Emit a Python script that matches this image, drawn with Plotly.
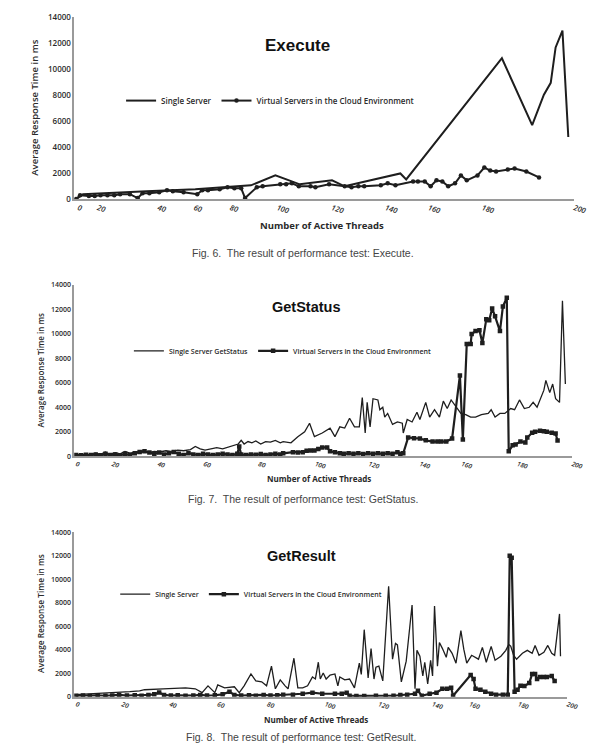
import plotly.graph_objects as go

# ---------------- DATA ----------------
# x values are category-slot positions along the (category) thread axis
tick_text = ["0", "20", "40", "60", "80", "100", "120", "140", "160", "180", "200"]
exec_tick_pos = [80, 100, 162, 199, 236, 284, 340, 395, 439, 494, 588]
stat_tick_pos = [78, 115, 162, 209, 265, 323, 378, 430, 473, 530, 586]
res_tick_pos = [78, 125, 174, 223, 274, 333, 388, 443, 481, 531, 581]

y_ticks = [0, 2000, 4000, 6000, 8000, 10000, 12000, 14000]
y_tick_text = ["0", "2000", "4000", "6000", "8000", "10000", "12000", "14000"]

exec_single_x = [78, 85, 150, 200, 257, 282, 307, 340, 353, 380, 410, 416, 514, 545, 557, 564, 569, 576, 582]
exec_single_y = [0, 380, 605, 760, 1060, 1820, 1135, 1440, 985, 1440, 1970, 1510, 10820, 5680, 8020, 8930, 11650, 12940, 4770]

exec_virtual_x = [78, 82, 91, 97, 103, 110, 117, 123, 133, 141, 146, 153, 163, 171, 177, 188, 202, 207, 213, 225,
                  233, 240, 247, 251, 263, 269, 287, 293, 299, 306, 318, 323, 337, 353, 360, 367, 373, 390, 397, 405,
                  423, 428, 435, 441, 447, 453, 459, 466, 472, 478, 489, 496, 502, 508, 520, 527, 539, 552]
exec_virtual_y = [0, 300, 230, 230, 300, 300, 300, 380, 380, 80, 450, 450, 530, 680, 600, 530, 380, 680, 680, 760,
                  910, 830, 830, 80, 910, 980, 1135, 1135, 1210, 980, 980, 910, 1135, 985, 910, 980, 980, 1060, 1210, 1060,
                  1360, 1360, 1360, 985, 1440, 1360, 985, 1210, 1820, 1440, 1820, 2420, 2195, 2120, 2270, 2350, 2120, 1665]

stat_single_x = [78, 85, 92, 98, 103, 108, 112, 118, 123, 128, 133, 140, 147, 152, 158, 163, 170, 175, 182, 188,
                 195, 200, 205, 210, 217, 222, 228, 235, 240, 244, 247, 250, 254, 258, 262, 267, 272, 277, 282, 287,
                 290, 298, 305, 312, 317, 322, 330, 338, 343, 348, 353, 358, 363, 368, 371, 373, 374, 376, 379, 382,
                 387, 389, 392, 394, 397, 402, 407, 412, 413, 417, 422, 427, 430, 436, 440, 445, 450, 454, 458, 462,
                 467, 472, 477, 482, 487, 493, 500, 503, 507, 512, 517, 523, 527, 532, 537, 542, 546, 550, 557, 559,
                 563, 566, 569, 573, 576, 579]
stat_single_y = [100, 150, 120, 250, 150, 350, 150, 300, 200, 400, 250, 350, 450, 300, 400, 350, 450, 400, 500, 450,
                 550, 800, 600, 500, 650, 700, 600, 800, 900, 1000, 1300, 1000, 1200, 1100, 1250, 1000, 1200, 1150, 1300, 1100,
                 1200, 1100, 1600, 2000, 2700, 1600, 1900, 2300, 1600, 2400, 2300, 3100, 2400, 2400, 4800, 2700, 1900, 4400, 2400, 4700,
                 4600, 3800, 4000, 3200, 3500, 2600, 2800, 2700, 1900, 3000, 2800, 3600, 3000, 4400, 3200, 3800, 3200, 4500, 3900, 4600,
                 4000, 3500, 3400, 3200, 3200, 3400, 3500, 3800, 3200, 3500, 3500, 3900, 3800, 4600, 3900, 4000, 4400, 4000, 5400, 6200,
                 5200, 5900, 4700, 4400, 12700, 5900]

stat_virtual_x = [78, 83, 88, 93, 98, 103, 108, 113, 118, 123, 128, 133, 138, 143, 148, 153, 158, 163, 168, 173,
                  178, 183, 188, 193, 198, 203, 208, 213, 218, 223, 228, 233, 238, 243, 245, 247, 252, 257, 262, 267,
                  272, 277, 282, 287, 290, 300, 305, 310, 314, 318, 322, 326, 330, 335, 338, 343, 348, 352, 357, 362,
                  367, 372, 377, 382, 387, 392, 397, 402, 407, 410, 413, 418, 424, 430, 436, 443, 448, 452, 457, 463,
                  471, 474, 478, 482, 483, 487, 491, 494, 498, 501, 504, 507, 512, 515, 519, 521, 525, 528, 533, 538,
                  540, 545, 548, 553, 557, 560, 565, 569, 571]
stat_virtual_y = [100, 80, 120, 100, 150, 80, 200, 100, 150, 80, 200, 100, 250, 350, 400, 300, 200, 300, 150, 250,
                  350, 200, 100, 250, 150, 100, 200, 150, 100, 150, 200, 150, 100, 200, 800, 150, 100, 150, 120, 180,
                  100, 150, 200, 150, 240, 330, 300, 330, 450, 480, 480, 600, 720, 720, 400, 330, 240, 200, 240, 200,
                  240, 180, 240, 200, 240, 200, 240, 200, 330, 200, 240, 1530, 1480, 1450, 1300, 1200, 1200, 1200, 1200, 1450,
                  6600, 1370, 9170, 9170, 9980, 10220, 10300, 9250, 11180, 11100, 12070, 11430, 10220, 12230, 12950, 400, 890, 970, 1200, 1130,
                  1530, 1930, 2010, 2090, 2050, 2010, 1930, 1850, 1290]

res_single_x = [77, 100, 110, 133, 143, 148, 167, 190, 200, 207, 213, 220, 223, 230, 240, 245, 250, 257, 262, 268,
                273, 278, 282, 287, 292, 295, 301, 305, 310, 315, 320, 323, 326, 328, 331, 334, 338, 343,
                346, 348, 353, 358, 363, 368, 370, 373, 377, 380, 383, 385, 388, 392, 398, 402, 405, 407, 411, 416,
                422, 425, 427, 430, 433, 435, 438, 441, 443, 445, 448, 450, 453, 457, 459, 463, 467, 472, 475, 478,
                483, 490, 494, 498, 503, 507, 513, 518, 521, 523, 526, 529, 535, 540, 545, 548, 552, 557, 561, 565,
                568, 573, 574]
res_single_y = [170, 250, 330, 420, 500, 590, 670, 750, 670, 340, 920, 340, 1000, 750, 840, 340, 920, 1930, 1340, 1260,
                920, 2600, 670, 1430, 920, 670, 3270, 750, 750, 920, 1680, 1510, 2930, 1500, 2010, 1500, 1840, 1930,
                920, 1680, 1430, 1500, 750, 2850, 1900, 5700, 1590, 4100, 1500, 2510, 2600, 1340, 9390, 3190, 4530, 4400, 1260, 3020,
                7800, 670, 3940, 3440, 1760, 2930, 1090, 3100, 1760, 7710, 2600, 4610, 4110, 3350, 4190, 3690, 2850, 5620, 4020, 2850,
                3520, 3190, 4190, 2930, 4280, 3100, 3440, 3940, 4440, 4300, 3520, 3190, 3690, 3940, 3690, 4360, 3520, 3770, 4360, 3690,
                3520, 7040, 3440]

res_virtual_x = [78, 85, 92, 100, 108, 115, 122, 130, 138, 145, 152, 158, 163, 168, 175, 182, 190, 198, 205, 212,
                 220, 228, 235, 240, 247, 255, 262, 270, 277, 284, 290, 300, 310, 320, 330, 343, 350, 355, 358, 365,
                 373, 385, 395, 403, 410, 417, 425, 428, 432, 440, 447, 453, 458, 462, 464, 482, 485, 487, 492, 497,
                 503, 508, 515, 520, 522, 524, 527, 530, 533, 537, 542, 545, 548, 550, 553, 557, 560, 565, 568]
res_virtual_y = [80, 100, 60, 120, 80, 100, 150, 100, 120, 80, 150, 200, 350, 150, 100, 120, 80, 100, 150, 100,
                 120, 200, 420, 150, 100, 120, 80, 150, 100, 120, 170, 170, 250, 340, 250, 250, 250, 340, 80, 60,
                 50, 80, 80, 80, 150, 170, 250, 500, 80, 250, 340, 670, 670, 750, 80, 1840, 1510, 670, 590, 420,
                 250, 170, 170, 170, 11990, 11820, 420, 590, 920, 900, 1170, 1930, 1930, 1510, 1680, 1680, 1680, 1760, 1340]

# ---------------- LAYOUT HELPERS ----------------
W, H = 595, 746
def fx(p):
    return p / W
def fy(p):
    return 1 - p / H

LINE = "#1e1e1e"
AXIS = "#9a9a9a"
TXT = "#2a2a2a"
UIF = "Open Sans"

fig = go.Figure()

panels = [
    dict(xa="x", ya="y", lg="legend", xr=588, yt=11, yb=196, tp=exec_tick_pos,
         s=(exec_single_x, exec_single_y), v=(exec_virtual_x, exec_virtual_y),
         sname="Single Server", sym="circle", msize=4.5, swidth=2.0, vwidth=2.0,
         ytf=8, xtf=7.5),
    dict(xa="x2", ya="y2", lg="legend2", xr=586, yt=283, yb=457, tp=stat_tick_pos,
         s=(stat_single_x, stat_single_y), v=(stat_virtual_x, stat_virtual_y),
         sname="Single Server GetStatus", sym="square", msize=4.5, swidth=1.3, vwidth=2.2,
         ytf=7, xtf=6.5),
    dict(xa="x3", ya="y3", lg="legend3", xr=581, yt=534, yb=701, tp=res_tick_pos,
         s=(res_single_x, res_single_y), v=(res_virtual_x, res_virtual_y),
         sname="Single Server", sym="square", msize=4.5, swidth=1.3, vwidth=2.2,
         ytf=7, xtf=6.5),
]

layout = dict(
    width=W, height=H, margin=dict(l=0, r=0, t=0, b=0),
    paper_bgcolor="white", plot_bgcolor="white",
)

for i, p in enumerate(panels):
    sfx = "" if i == 0 else str(i + 1)
    fig.add_trace(go.Scatter(
        x=p["s"][0], y=p["s"][1], mode="lines", name=p["sname"],
        line=dict(color=LINE, width=p["swidth"]),
        xaxis=p["xa"], yaxis=p["ya"], legend=p["lg"], showlegend=True))
    fig.add_trace(go.Scatter(
        x=p["v"][0], y=p["v"][1], mode="lines+markers",
        name="Virtual Servers in the Cloud Environment",
        line=dict(color=LINE, width=p["vwidth"]),
        marker=dict(symbol=p["sym"], size=p["msize"], color=LINE),
        xaxis=p["xa"], yaxis=p["ya"], legend=p["lg"], showlegend=True))

    layout["xaxis" + sfx] = dict(
        domain=[fx(76), fx(p["xr"])], range=[76, p["xr"]],
        anchor=p["ya"], showline=True, linecolor=AXIS, linewidth=1.5,
        showgrid=False, zeroline=False, ticks="",
        tickmode="array", tickvals=p["tp"], ticktext=tick_text,
        tickangle=18,
        tickfont=dict(family=UIF, size=p["xtf"], color=TXT, style="italic", weight=600),
    )
    layout["yaxis" + sfx] = dict(
        domain=[fy(p["yb"]), fy(p["yt"])], range=[0, 14000],
        anchor=p["xa"], showline=True, linecolor=AXIS, linewidth=1.5,
        showgrid=False, zeroline=False, ticks="",
        tickmode="array", tickvals=y_ticks, ticktext=y_tick_text,
        tickfont=dict(family=UIF, size=p["ytf"], color=TXT, weight=600),
    )

legend_pos = [(124, 96, 8), (132, 350, 7), (118, 597, 7)]
for i, (lx, ly, lf) in enumerate(legend_pos):
    key = "legend" if i == 0 else "legend" + str(i + 1)
    layout[key] = dict(
        orientation="h", x=fx(lx), y=fy(ly), xanchor="left", yanchor="middle",
        bgcolor="rgba(0,0,0,0)", font=dict(family=UIF, size=lf, color=TXT, weight=600),
        itemwidth=30, tracegroupgap=0,
    )

fig.update_layout(**layout)

ann = []
ann.append(dict(text="<b>Execute</b>", x=fx(305), y=fy(40), font=dict(family="Liberation Sans", size=17, color="#111")))
ann.append(dict(text="<b>GetStatus</b>", x=fx(314), y=fy(305), font=dict(family="Liberation Sans", size=14.5, color="#111")))
ann.append(dict(text="<b>GetResult</b>", x=fx(309), y=fy(558), font=dict(family="Liberation Sans", size=14.5, color="#111")))
ann.append(dict(text="Number of Active Threads", x=fx(330), y=fy(223), font=dict(family=UIF, size=9.5, color=TXT, weight=700)))
ann.append(dict(text="Number of Active Threads", x=fx(327), y=fy(480), font=dict(family=UIF, size=8, color=TXT, weight=700)))
ann.append(dict(text="Number of Active Threads", x=fx(324), y=fy(724), font=dict(family=UIF, size=8, color=TXT, weight=700)))
ann.append(dict(text="Average Response Time in ms", x=fx(35), y=fy(103), textangle=-90, font=dict(family=UIF, size=9.5, color=TXT, weight=600)))
ann.append(dict(text="Average Response Time in ms", x=fx(42), y=fy(370), textangle=-90, font=dict(family=UIF, size=8, color=TXT, weight=600)))
ann.append(dict(text="Average Response Time in ms", x=fx(42), y=fy(617), textangle=-90, font=dict(family=UIF, size=8.3, color=TXT, weight=600)))
ann.append(dict(text="Fig. 6.  The result of performance test: Execute.", x=fx(310), y=fy(251), font=dict(family="Liberation Sans", size=10.5, color="#444")))
ann.append(dict(text="Fig. 7.  The result of performance test: GetStatus.", x=fx(310), y=fy(500), font=dict(family="Liberation Sans", size=10.5, color="#444")))
ann.append(dict(text="Fig. 8.  The result of performance test: GetResult.", x=fx(308), y=fy(742), font=dict(family="Liberation Sans", size=10.5, color="#444")))

for a in ann:
    a.update(xref="paper", yref="paper", showarrow=False, xanchor="center", yanchor="middle")
fig.update_layout(annotations=ann)

fig.write_html("out.html")
